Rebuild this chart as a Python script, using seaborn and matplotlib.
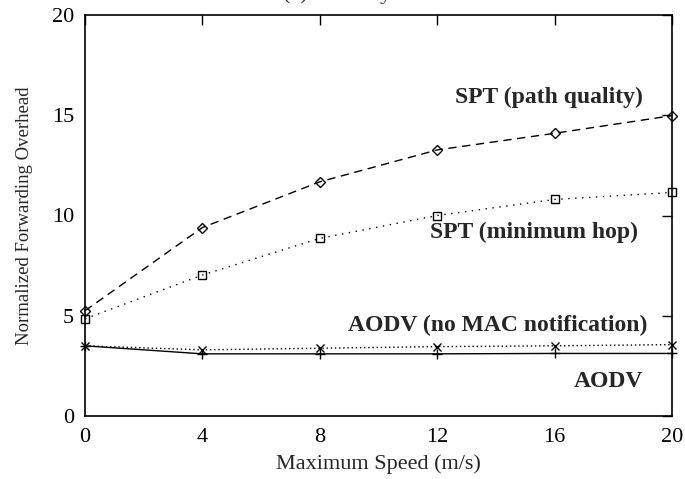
import matplotlib
matplotlib.use("Agg")
import matplotlib.pyplot as plt
import seaborn as sns
import pandas as pd

speeds = [0, 4, 8, 12, 16, 20]
spt_path_quality = [5.25, 9.4, 11.68, 13.27, 14.1, 14.98]
spt_min_hop = [4.85, 7.03, 8.86, 10.0, 10.8, 11.15]
aodv_no_mac = [3.5, 3.3, 3.38, 3.46, 3.5, 3.56]
aodv = [3.5, 3.1, 3.1, 3.1, 3.12, 3.12]

series_names = ["SPT (path quality)", "SPT (minimum hop)",
                "AODV (no MAC notification)", "AODV"]
xticks = [0, 4, 8, 12, 16, 20]
yticks = [0, 5, 10, 15, 20]

sns.set_style("white")
plt.rcParams["font.family"] = ["Liberation Serif", "DejaVu Serif"]

fig = plt.figure(figsize=(6.85, 4.79), dpi=100)
ax = fig.add_axes([85/685, 63/479, 587/685, 401/479])

styles = [
    dict(linestyle=(0, (6, 4)), marker="D", markersize=5),
    dict(linestyle=(0, (1, 4)), marker="s", markersize=6),
    dict(linestyle=(0, (1, 2)), marker="x", markersize=6),
    dict(linestyle="-", marker="+", markersize=7),
]
values = [spt_path_quality, spt_min_hop, aodv_no_mac, aodv]
for name, vals, st in zip(series_names, values, styles):
    df = pd.DataFrame({"speed": speeds, "overhead": vals})
    sns.lineplot(data=df, x="speed", y="overhead", ax=ax, color="black",
                 linewidth=1.0, markerfacecolor="none", markeredgecolor="black",
                 markeredgewidth=1.0, legend=False, clip_on=False, **st)

ax.set_xlim(0, 20)
ax.set_ylim(0, 20)
ax.set_xticks(xticks)
ax.set_yticks(yticks)
ax.tick_params(direction="in", length=7, width=1, top=True, right=True,
               labelsize=16, colors="black")
ax.tick_params(axis="x", pad=9)
ax.tick_params(axis="y", pad=8)
for s in ax.spines.values():
    s.set_visible(True)
    s.set_color("black")
    s.set_linewidth(1.2)

ax.set_xlabel("Maximum Speed (m/s)", fontsize=16)
ax.set_ylabel("Normalized Forwarding Overhead", fontsize=13.5)
ax.xaxis.set_label_coords(0.5, -0.095)
ax.yaxis.set_label_coords(-0.088, 0.5)

ann = dict(fontsize=17, fontweight="bold", ha="right", va="center")
ax.text(19.0, 15.9, series_names[0], **ann)
ax.text(18.84, 9.18, series_names[1], **ann)
ax.text(19.15, 4.54, series_names[2], **ann)
ax.text(19.0, 1.7, series_names[3], **ann)

fig.text(337/685, 1 + 1.0/479, "(a) Mobility", ha="center", va="baseline",
         fontsize=16)

fig.savefig("out.png", dpi=100)
